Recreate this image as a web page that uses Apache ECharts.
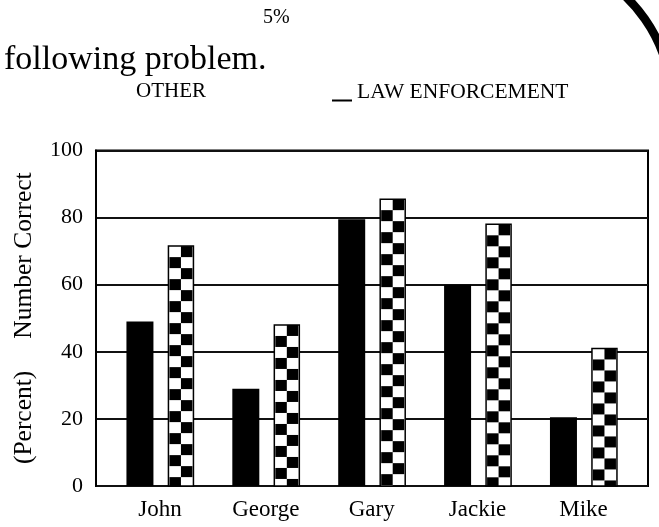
<!DOCTYPE html>
<html>
<head>
<meta charset="utf-8">
<title>Number Correct</title>
<script src="https://cdn.jsdelivr.net/npm/echarts@6/dist/echarts.min.js"></script>
<style>
  html, body { margin: 0; padding: 0; background: #fff; }
  #chart { width: 659px; height: 527px; }
</style>
</head>
<body>
<div id="chart"></div>
<script>
// Percent of people answering correctly, per person
const categories = ['John', 'George', 'Gary', 'Jackie', 'Mike'];
const otherValues = [49, 29, 79.5, 60, 20.5];
const lawValues = [71.5, 48, 85.5, 78, 41];
const yTickValues = [0, 20, 40, 60, 80, 100];

const seriesNames = ['OTHER', 'LAW ENFORCEMENT'];
const headingText = 'following problem.';
const noteText = '5%';
const yAxisTitle = '(Percent)     Number Correct';

const SERIF = '"Liberation Serif", "Times New Roman", serif';

// bar geometry (pixels) relative to the category centre
const OTHER_OFFSET = -20, OTHER_WIDTH = 27;
const LAW_OFFSET = 21, LAW_WIDTH = 25, CELL = 11;

function renderOther(params, api) {
  const base = api.coord([api.value(0), 0]);
  const top = api.coord([api.value(0), api.value(1)]);
  return {
    type: 'rect',
    shape: { x: base[0] + OTHER_OFFSET - OTHER_WIDTH / 2, y: top[1], width: OTHER_WIDTH, height: base[1] - top[1] },
    style: { fill: '#000' }
  };
}

// chequered bar: white body, two columns of black squares, black outline
function renderLaw(params, api) {
  const base = api.coord([api.value(0), 0]);
  const top = api.coord([api.value(0), api.value(1)]);
  const left = base[0] + LAW_OFFSET - LAW_WIDTH / 2;
  const h = base[1] - top[1];
  const children = [{
    type: 'rect',
    shape: { x: left, y: top[1], width: LAW_WIDTH, height: h },
    style: { fill: '#fff' }
  }];
  const cw = (LAW_WIDTH - 2) / 2;
  for (let r = 0, y = top[1]; y < base[1] - 0.5; r++, y += CELL) {
    const ch = Math.min(CELL, base[1] - y);
    for (let c = 0; c < 2; c++) {
      if ((r + c) % 2 === 1) {
        children.push({
          type: 'rect',
          shape: { x: left + 1 + c * cw, y: y, width: cw, height: ch },
          style: { fill: '#000' }
        });
      }
    }
  }
  children.push({
    type: 'rect',
    shape: { x: left, y: top[1], width: LAW_WIDTH, height: h },
    style: { fill: 'none', stroke: '#000', lineWidth: 1.5 }
  });
  return { type: 'group', children: children };
}

const chart = echarts.init(document.getElementById('chart'), null, { renderer: 'canvas' });

chart.setOption({
  animation: false,
  backgroundColor: '#fff',
  title: [
    {
      text: headingText, left: 4, top: 43, padding: 0,
      textStyle: { fontFamily: SERIF, fontSize: 34, fontWeight: 'normal', color: '#000' }
    },
    {
      text: noteText, left: 263, top: 8, padding: 0,
      textStyle: { fontFamily: SERIF, fontSize: 20, fontWeight: 'normal', color: '#000' }
    }
  ],
  legend: [
    {
      data: [{ name: seriesNames[0], icon: 'none' }],
      left: 131, top: 81, padding: 0, itemWidth: 0, itemHeight: 20,
      selectedMode: false,
      textStyle: { fontFamily: SERIF, fontSize: 21, color: '#000' }
    },
    {
      data: [{ name: seriesNames[1], icon: 'path://M0,0 L0,0 Z M0,17 L20,17 L20,19 L0,19 Z' }],
      left: 332, top: 81, padding: 0, itemWidth: 20, itemHeight: 20, itemGap: 0,
      selectedMode: false,
      textStyle: { fontFamily: SERIF, fontSize: 21.5, color: '#000' }
    }
  ],
  graphic: [{
    type: 'arc',
    shape: { cx: 522, cy: 105, r: 150, startAngle: -Math.PI / 3, endAngle: -Math.PI / 18, clockwise: true },
    style: { stroke: '#000', lineWidth: 8.5, fill: 'none' }
  }],
  grid: [
    {
      left: 96, right: 11, top: 150.5, bottom: 41,
      show: true, borderColor: '#000', borderWidth: 2, backgroundColor: 'transparent',
      outerBoundsMode: 'none'
    },
    {
      left: 107, right: 22.6, top: 150.5, bottom: 41,
      outerBoundsMode: 'none'
    }
  ],
  xAxis: [
    { gridIndex: 0, type: 'value', min: 0, max: 1, show: false },
    {
      gridIndex: 1, type: 'category', data: categories, boundaryGap: true,
      axisLine: { show: false }, axisTick: { show: false },
      axisLabel: { fontFamily: SERIF, fontSize: 23, color: '#000', margin: 12 }
    }
  ],
  yAxis: [
    {
      gridIndex: 0, type: 'value',
      min: yTickValues[0], max: yTickValues[yTickValues.length - 1],
      interval: yTickValues[1] - yTickValues[0],
      name: yAxisTitle, nameLocation: 'middle', nameGap: 59, nameRotate: 90,
      nameTextStyle: { fontFamily: SERIF, fontSize: 25.5, color: '#000' },
      axisLine: { show: true, lineStyle: { color: '#000', width: 2 } },
      axisTick: { show: false },
      axisLabel: { fontFamily: SERIF, fontSize: 22, color: '#000', margin: 13 },
      splitLine: { show: true, lineStyle: { color: '#111', width: 2 } }
    },
    {
      gridIndex: 1, type: 'value',
      min: yTickValues[0], max: yTickValues[yTickValues.length - 1],
      show: false, splitLine: { show: false }
    }
  ],
  series: [
    {
      name: seriesNames[0], type: 'custom', xAxisIndex: 1, yAxisIndex: 1,
      itemStyle: { color: '#000' },
      renderItem: renderOther,
      data: categories.map((c, i) => [i, otherValues[i]]),
      z: 5
    },
    {
      name: seriesNames[1], type: 'custom', xAxisIndex: 1, yAxisIndex: 1,
      itemStyle: { color: '#000' },
      renderItem: renderLaw,
      data: categories.map((c, i) => [i, lawValues[i]]),
      z: 5
    }
  ]
});
</script>
</body>
</html>
